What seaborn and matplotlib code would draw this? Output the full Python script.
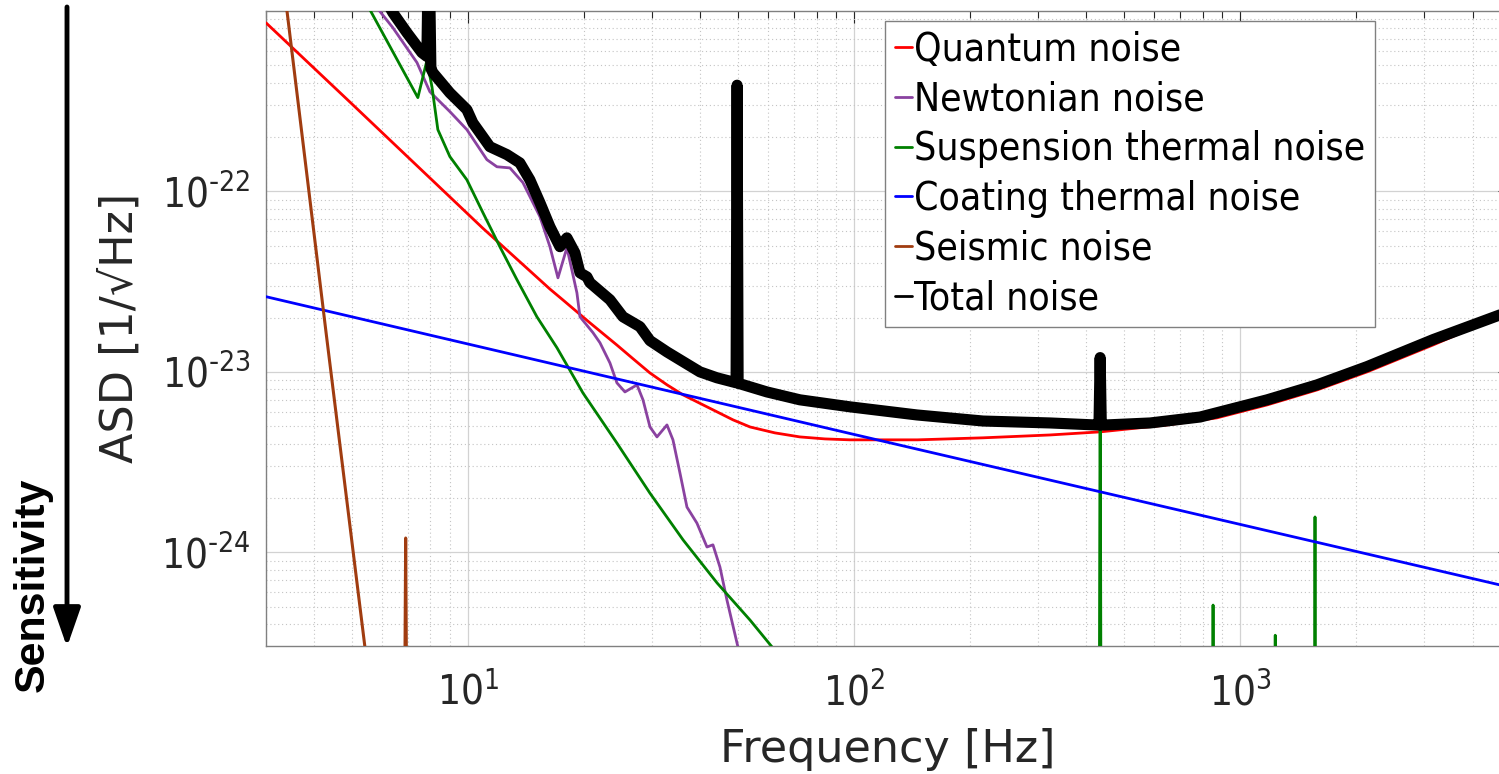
import numpy as np
import pandas as pd
import matplotlib
matplotlib.use("Agg")
import matplotlib.pyplot as plt
import seaborn as sns
from matplotlib.lines import Line2D
from matplotlib.patches import FancyArrowPatch
from matplotlib.ticker import FixedLocator, FixedFormatter, LogLocator, NullFormatter

# ---------------- data ----------------
quantum_f = [3.0, 4.94, 10.9, 16.3, 17.6, 20.7, 24.3, 26.8, 29.6, 32.8, 36.1, 44.2, 48.6,
             53.8, 62.4, 72.4, 84.1, 97.6, 146, 216, 322, 434, 647, 871, 1175, 1582,
             2133, 3162, 5000]
quantum_asd = [8.6e-22, 3.14e-22, 6.29e-23, 2.88e-23, 2.51e-23, 1.87e-23, 1.41e-23,
               1.18e-23, 9.87e-24, 8.47e-24, 7.45e-24, 6.0e-24, 5.42e-24, 4.95e-24,
               4.59e-24, 4.36e-24, 4.25e-24, 4.20e-24, 4.20e-24, 4.31e-24, 4.47e-24,
               4.65e-24, 5.08e-24, 5.56e-24, 6.56e-24, 7.94e-24, 1.0e-23, 1.41e-23,
               2.15e-23]

newtonian_f = [5.57, 5.92, 6.39, 7.38, 7.97, 8.98, 9.94, 11.20, 11.89, 12.85, 13.88,
               15.37, 16.31, 17.11, 18.05, 19.16, 19.51, 21.08, 21.98, 23.33, 24.32,
               25.51, 27.41, 28.41, 29.62, 30.88, 32.78, 33.97, 35.42, 36.93, 39.20,
               41.61, 43.12, 44.96, 46.88, 50.06, 52.2]
newtonian_asd = [1.23e-21, 9.93e-22, 8.09e-22, 5.18e-22, 3.57e-22, 2.77e-22, 2.20e-22,
                 1.50e-22, 1.37e-22, 1.35e-22, 1.12e-22, 7.24e-23, 4.94e-23, 3.32e-23,
                 4.88e-23, 2.74e-23, 2.02e-23, 1.65e-23, 1.45e-23, 1.12e-23, 8.69e-24,
                 7.74e-24, 8.47e-24, 7.00e-24, 4.95e-24, 4.36e-24, 5.08e-24, 4.20e-24,
                 2.75e-24, 1.78e-24, 1.45e-24, 1.07e-24, 1.10e-24, 8.28e-25, 5.43e-25,
                 2.98e-25, 1.96e-25]

suspension_f = [5.10, 5.57, 7.42, 7.83, 8.07, 8.36, 8.98, 9.94, 10.94, 12.10, 13.40,
                15.09, 17.01, 19.86, 24.32, 29.6, 36.1, 44.2, 53.8, 61.4, 72.4, 120,
                430, 434, 438, 600, 847, 851, 855, 1100, 1229, 1233, 1237, 1400,
                1558, 1563, 1568, 3000, 5000]
suspension_asd = [1.45e-21, 1.02e-21, 3.31e-22, 5.31e-22, 3.81e-22, 2.20e-22, 1.56e-22,
                  1.16e-22, 7.62e-23, 4.94e-23, 3.24e-23, 2.02e-23, 1.36e-23, 7.64e-24,
                  4.03e-24, 2.13e-24, 1.17e-24, 6.76e-25, 4.21e-25, 2.98e-25, 1.96e-25,
                  5e-26, 3e-27, 1.1e-23, 3e-27, 2e-27, 2e-27, 5.1e-25, 2e-27, 2e-27,
                  2e-27, 3.47e-25, 2e-27, 2e-27, 2e-27, 1.57e-24, 2e-27, 1e-27, 1e-27]

coating_f = [3.0, 100.0, 5000.0]
coating_asd = [2.61e-23, 4.5e-24, 6.4e-25]

seismic_f = [3.2, 3.40, 4.3, 5.41, 5.8, 6.84, 6.90, 6.96, 8.0]
seismic_asd = [2.7e-21, 1.0e-21, 1.6e-23, 3.0e-25, 9.2e-26, 5e-26, 1.2e-24, 5e-26, 1e-27]

total_f = [6.02, 6.39, 6.95, 7.60, 7.83, 7.92, 8.02, 8.12, 8.98, 9.94, 10.30, 11.40,
           12.62, 13.63, 14.47, 15.37, 16.31, 17.31, 18.05, 18.93, 19.51, 20.34, 20.71,
           23.33, 25.21, 27.90, 29.62, 32.78, 36.06, 39.90, 44.16, 49.5, 49.8, 50.1,
           59.5, 72.4, 97.6, 145.6, 215.8, 322, 421, 431, 434, 437, 450, 585, 788,
           1175, 1582, 2133, 3162, 5000]
total_asd = [1.23e-21, 9.80e-22, 7.59e-22, 5.88e-22, 5.6e-22, 3e-21, 4.8e-22, 4.55e-22,
             3.52e-22, 2.84e-22, 2.40e-22, 1.77e-22, 1.60e-22, 1.44e-22, 1.16e-22,
             8.65e-23, 6.37e-23, 4.94e-23, 5.53e-23, 4.57e-23, 3.54e-23, 3.36e-23,
             3.12e-23, 2.51e-23, 2.02e-23, 1.78e-23, 1.49e-23, 1.29e-23, 1.14e-23,
             1.00e-23, 9.27e-24, 8.7e-24, 3.88e-22, 8.65e-24, 7.74e-24, 7.00e-24,
             6.40e-24, 5.77e-24, 5.34e-24, 5.21e-24, 5.08e-24, 5.07e-24, 1.20e-23,
             5.07e-24, 5.08e-24, 5.21e-24, 5.62e-24, 7.0e-24, 8.47e-24, 1.07e-23,
             1.51e-23, 2.17e-23]

legend_labels = ["Quantum noise", "Newtonian noise", "Suspension thermal noise",
                 "Coating thermal noise", "Seismic noise", "Total noise"]
x_tick_values = [10, 100, 1000]
x_tick_labels = [r"$10^{1}$", r"$10^{2}$", r"$10^{3}$"]
y_tick_values = [1e-24, 1e-23, 1e-22]
y_tick_labels = [r"$10^{\text{-}24}$", r"$10^{\text{-}23}$", r"$10^{\text{-}22}$"]

# ---------------- style ----------------
sns.set_theme(style="white")
plt.rcParams["font.family"] = ["DejaVu Sans"]
plt.rcParams["mathtext.default"] = "regular"
plt.rcParams["axes.unicode_minus"] = False

TXT = "#262626"
colors = ["#ff0000", "#8a42a0", "#008000", "#0000ff", "#a03c10", "#000000"]
widths = [2.0, 2.0, 2.0, 2.0, 2.2, 8.0]

fig = plt.figure(figsize=(14.99, 7.74), dpi=100)
ax = fig.add_axes([266 / 1499, (774 - 645.6) / 774, (1510 - 266) / 1499, (645.6 - 11) / 774])
ax.set_xscale("log")
ax.set_yscale("log")

series = [(quantum_f, quantum_asd), (newtonian_f, newtonian_asd),
          (suspension_f, suspension_asd), (coating_f, coating_asd),
          (seismic_f, seismic_asd), (total_f, total_asd)]

for (f, a), c, lw, name in zip(series, colors, widths, legend_labels):
    df = pd.DataFrame({"f": f, "asd": a})
    sns.lineplot(data=df, x="f", y="asd", ax=ax, color=c, linewidth=lw, sort=False,
                 estimator=None, legend=False, zorder=5 if name == "Total noise" else 3)

for ln in ax.get_lines():
    ln.set_solid_joinstyle("round")
    ln.set_solid_capstyle("round")

ax.set_xlim(3, 5000)
ax.set_ylim(3.04e-25, 1.0e-21)

ax.xaxis.set_major_locator(FixedLocator(x_tick_values))
ax.xaxis.set_major_formatter(FixedFormatter(x_tick_labels))
ax.xaxis.set_minor_locator(LogLocator(base=10, subs=np.arange(2, 10), numticks=30))
ax.xaxis.set_minor_formatter(NullFormatter())
ax.yaxis.set_major_locator(FixedLocator(y_tick_values))
ax.yaxis.set_major_formatter(FixedFormatter(y_tick_labels))
ax.yaxis.set_minor_locator(LogLocator(base=10, subs=np.arange(2, 10), numticks=30))
ax.yaxis.set_minor_formatter(NullFormatter())

ax.grid(which="major", color="#d2d2d2", linewidth=0.9, linestyle="-")
ax.grid(which="minor", color="#c4c4c4", linewidth=0.8, linestyle=(0, (1, 2.5)))
ax.set_axisbelow(True)

ax.tick_params(which="both", direction="in", top=True, right=True, color=TXT, width=0.8)
ax.tick_params(which="major", length=8.6, labelcolor=TXT)
ax.tick_params(which="minor", length=5)
ax.tick_params(axis="x", which="major", pad=20)
ax.tick_params(axis="y", which="major", pad=11)
for lab in ax.get_xticklabels() + ax.get_yticklabels():
    lab.set_fontsize(29)
    lab.set_fontstretch("condensed")
for sp in ax.spines.values():
    sp.set_visible(True)
    sp.set_color("#808080")
    sp.set_linewidth(1.0)

ax.set_xlabel("Frequency [Hz]", fontsize=32, color=TXT, labelpad=10)
ax.set_ylabel("ASD [1/√Hz]", fontsize=32, color=TXT, labelpad=14)

handles = [Line2D([], [], color=c, linewidth=2.0) for c in colors]
leg = ax.legend(handles, legend_labels, loc="upper left", bbox_to_anchor=(0.4976, 0.984),
                borderaxespad=0, handlelength=0.45, handletextpad=0.05,
                labelspacing=0.3, borderpad=0.25, frameon=True, fancybox=False,
                framealpha=1, edgecolor="#808080",
                prop={"family": "DejaVu Sans", "size": 28, "stretch": "condensed"})
leg.get_frame().set_linewidth(1.0)
leg.set_zorder(10)
for t in leg.get_texts():
    t.set_color("black")

arrow = FancyArrowPatch((67 / 1499, 1 - 7 / 774), (67 / 1499, 1 - 647 / 774),
                        transform=fig.transFigure,
                        arrowstyle="-|>,head_length=23.8,head_width=8.3",
                        mutation_scale=1, linewidth=3.5, color="black",
                        shrinkA=0, shrinkB=0)
fig.add_artist(arrow)
fig.text(33 / 1499, 1 - 585 / 774, "Sensitivity", rotation=90, ha="center", va="center",
         fontsize=31, fontweight="bold", family=["Liberation Sans", "DejaVu Sans"],
         color="black")

fig.savefig("out.png", dpi=100)
